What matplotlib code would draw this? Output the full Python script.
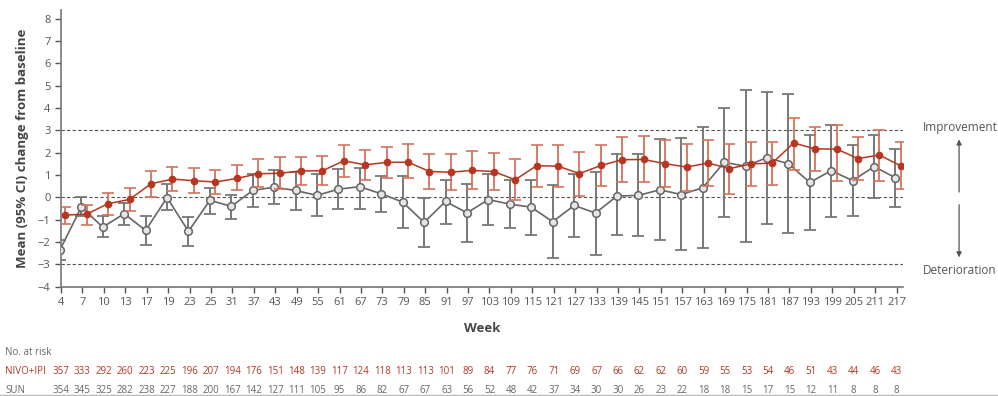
import matplotlib
matplotlib.use("Agg")
import matplotlib.pyplot as plt
import numpy as np
from matplotlib.transforms import blended_transform_factory

plt.rcParams["font.family"] = ["Open Sans", "DejaVu Sans"]

weeks = [4, 7, 10, 13, 17, 19, 23, 25, 31, 37, 43, 49, 55, 61, 67, 73, 79, 85, 91, 97,
         103, 109, 115, 121, 127, 133, 139, 145, 151, 157, 163, 169, 175, 181, 187, 193,
         199, 205, 211, 217]

# NIVO+IPI mean change and 95% CI
nivo_mean = [-0.79, -0.75, -0.28, -0.09, 0.61, 0.82, 0.75, 0.69, 0.85, 1.06, 1.08, 1.19,
             1.19, 1.64, 1.46, 1.57, 1.58, 1.16, 1.13, 1.21, 1.16, 0.79, 1.42, 1.40, 1.07,
             1.43, 1.69, 1.70, 1.51, 1.36, 1.54, 1.29, 1.50, 1.54, 2.44, 2.17, 2.17, 1.74,
             1.90, 1.41]
nivo_hi = [-0.42, -0.33, 0.22, 0.40, 1.18, 1.36, 1.30, 1.25, 1.43, 1.70, 1.81, 1.81, 1.87,
           2.36, 2.13, 2.28, 2.40, 1.96, 1.96, 2.06, 2.00, 1.72, 2.36, 2.36, 2.03, 2.36,
           2.70, 2.73, 2.55, 2.40, 2.58, 2.40, 2.50, 2.49, 3.54, 3.16, 3.24, 2.71, 3.04, 2.46]
nivo_lo = [-1.17, -1.22, -0.78, -0.63, 0.01, 0.28, 0.19, 0.16, 0.31, 0.46, 0.39, 0.57, 0.54,
           0.91, 0.76, 0.85, 0.88, 0.36, 0.31, 0.39, 0.31, -0.13, 0.47, 0.45, 0.06, 0.49,
           0.70, 0.69, 0.46, 0.28, 0.49, 0.15, 0.50, 0.57, 1.21, 1.17, 0.72, 0.76, 0.73, 0.36]

# SUN mean change and 95% CI
sun_mean = [-2.36, -0.43, -1.33, -0.73, -1.48, -0.01, -1.52, -0.13, -0.40, 0.31, 0.46, 0.31,
            0.09, 0.37, 0.48, 0.16, -0.21, -1.12, -0.18, -0.69, -0.10, -0.30, -0.44, -1.09,
            -0.36, -0.70, 0.06, 0.09, 0.34, 0.13, 0.43, 1.57, 1.40, 1.78, 1.51, 0.67, 1.20,
            0.75, 1.38, 0.88]
sun_hi = [-1.93, 0.02, -0.82, -0.24, -0.85, 0.58, -0.88, 0.43, 0.13, 1.03, 1.24, 1.13, 1.06,
          1.28, 1.33, 0.94, 0.94, -0.02, 0.77, 0.59, 1.04, 0.79, 0.80, 0.54, 1.06, 1.16,
          1.96, 1.96, 2.60, 2.67, 3.14, 4.00, 4.81, 4.71, 4.63, 2.79, 3.24, 2.35, 2.79, 2.19]
sun_lo = [-2.82, -0.85, -1.78, -1.25, -2.15, -0.58, -2.18, -0.73, -0.96, -0.43, -0.28, -0.58,
          -0.85, -0.54, -0.54, -0.66, -1.39, -2.21, -1.17, -1.98, -1.24, -1.35, -1.69, -2.72,
          -1.78, -2.58, -1.70, -1.75, -1.93, -2.37, -2.25, -0.87, -2.01, -1.18, -1.59, -1.45,
          -0.88, -0.85, -0.03, -0.43]

nivo_risk = [357, 333, 292, 260, 223, 225, 196, 207, 194, 176, 151, 148, 139, 117, 124, 118,
             113, 113, 101, 89, 84, 77, 76, 71, 69, 67, 66, 62, 62, 60, 59, 55, 53, 54, 46,
             51, 43, 44, 46, 43]
sun_risk = [354, 345, 325, 282, 238, 227, 188, 200, 167, 142, 127, 111, 105, 95, 86, 82, 67,
            67, 63, 56, 52, 48, 42, 37, 34, 30, 30, 26, 23, 22, 18, 18, 15, 17, 15, 12, 11,
            8, 8, 8]

RED = "#b8361f"
RED_CI = "#d2735c"
GREY = "#666666"
GREY_CI = "#777777"
TXT = "#555555"

fig = plt.figure(figsize=(9.98, 3.96), dpi=100)
ax = fig.add_axes([0.0611, 0.276, 0.8437, 0.699])

x = np.arange(len(weeks))
sun_mean = np.array(sun_mean)
nivo_mean = np.array(nivo_mean)

for yv in (3, 0, -3):
    ax.axhline(yv, color="#555555", lw=0.8, ls=(0, (3, 2)), zorder=1)

ax.errorbar(x - 0.05, sun_mean,
            yerr=[sun_mean - np.array(sun_lo), np.array(sun_hi) - sun_mean],
            fmt="none", ecolor=GREY_CI, elinewidth=1.4, capsize=4, capthick=1.3, zorder=2)
ax.plot(x - 0.05, sun_mean, color=GREY, lw=1.2, marker="o", ms=5.5,
        mfc="#e6e6e6", mec=GREY, mew=1.1, zorder=3)

ax.errorbar(x + 0.2, nivo_mean,
            yerr=[nivo_mean - np.array(nivo_lo), np.array(nivo_hi) - nivo_mean],
            fmt="none", ecolor=RED_CI, elinewidth=1.3, capsize=4, capthick=1.2, zorder=4)
ax.plot(x + 0.2, nivo_mean, color=RED, lw=1.1, marker="o", ms=4.5,
        mfc=RED, mec=RED, zorder=5)

ax.set_xlim(0, 39.3)
ax.set_ylim(-4, 8.4)
ax.set_xticks(x)
ax.set_xticklabels(weeks)
ax.set_yticks(range(-4, 9))
ax.tick_params(labelsize=8, colors=TXT, length=4, width=1)
for s in ("top", "right"):
    ax.spines[s].set_visible(False)
for s in ("left", "bottom"):
    ax.spines[s].set_color("#777777")
    ax.spines[s].set_linewidth(1.2)

ax.set_ylabel("Mean (95% CI) change from baseline", fontsize=9.5, fontweight="bold",
              color="#444444", labelpad=6)
ax.set_xlabel("Week", fontsize=9.5, fontweight="bold", color="#444444", labelpad=10)

# right-hand annotations
fig.text(0.962, 0.677, "Improvement", ha="center", va="center", fontsize=8.5, color=TXT)
fig.text(0.962, 0.318, "Deterioration", ha="center", va="center", fontsize=8.5, color=TXT)
fig.add_artist(matplotlib.patches.FancyArrowPatch(
    (0.961, 0.508), (0.961, 0.655), transform=fig.transFigure,
    arrowstyle="-|>,head_length=3,head_width=1.5", color="#555555", lw=0.9))
fig.add_artist(matplotlib.patches.FancyArrowPatch(
    (0.961, 0.490), (0.961, 0.343), transform=fig.transFigure,
    arrowstyle="-|>,head_length=3,head_width=1.5", color="#555555", lw=0.9))

# number at risk table
tr = blended_transform_factory(ax.transData, fig.transFigure)
fig.text(0.005, 0.111, "No. at risk", fontsize=7, color="#666666", va="center")
fig.text(0.005, 0.063, "NIVO+IPI", fontsize=7, color=RED, va="center")
fig.text(0.005, 0.015, "SUN", fontsize=7, color="#666666", va="center")
for i in range(len(weeks)):
    ax.text(i, 0.063, str(nivo_risk[i]), transform=tr, ha="center", va="center",
            fontsize=7, color=RED, clip_on=False)
    ax.text(i, 0.015, str(sun_risk[i]), transform=tr, ha="center", va="center",
            fontsize=7, color="#666666", clip_on=False)

fig.add_artist(matplotlib.lines.Line2D([0, 1], [0.002, 0.002], transform=fig.transFigure,
                                       color="#bbbbbb", lw=1))

fig.savefig("out.png", dpi=100)
